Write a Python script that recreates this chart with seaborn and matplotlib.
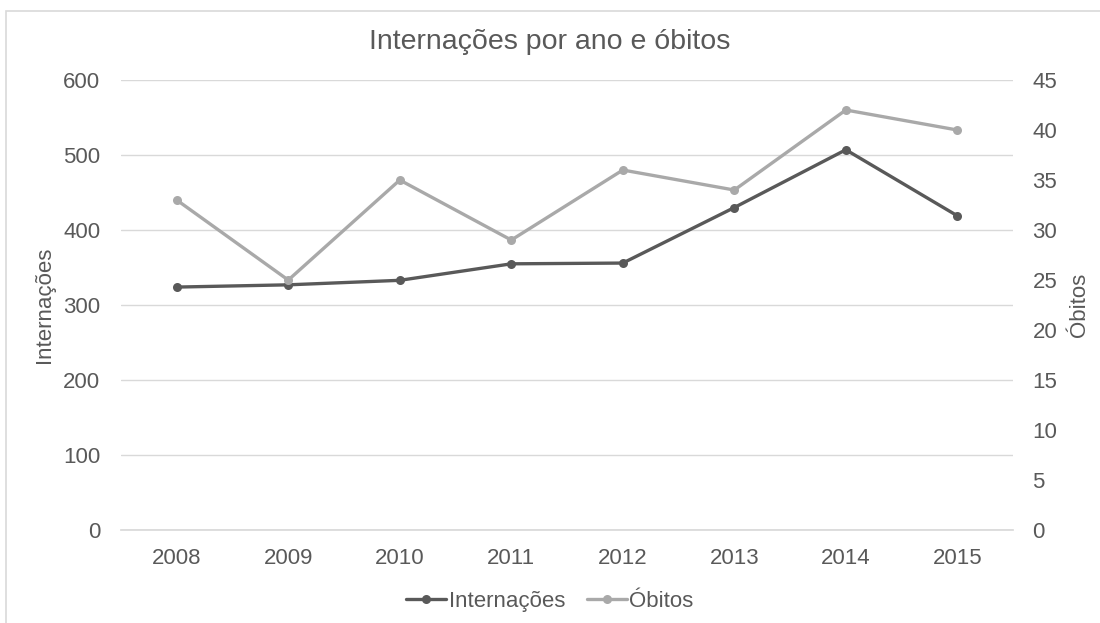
import matplotlib
matplotlib.use("Agg")
import matplotlib.pyplot as plt
import seaborn as sns
import pandas as pd
from matplotlib.lines import Line2D
from matplotlib.patches import Rectangle

anos = ["2008", "2009", "2010", "2011", "2012", "2013", "2014", "2015"]
internacoes = [324, 327, 333, 355, 356, 430, 507, 419]
obitos = [33, 25, 35, 29, 36, 34, 42, 40]

sns.set_theme(style="white")
plt.rcParams['font.family'] = ['Liberation Sans', 'DejaVu Sans']
txt = "#595959"
fs = 16

fig = plt.figure(figsize=(11, 6.23), dpi=100)
ax = fig.add_axes([0.11, 0.149, 0.811, 0.7226])
ax2 = ax.twinx()

df = pd.DataFrame({"ano": anos, "pos": range(len(anos)), "internacoes": internacoes, "obitos": obitos})

c1 = "#595959"
c2 = "#A9A9A9"
sns.lineplot(data=df, x="pos", y="internacoes", ax=ax, color=c1, lw=2.4,
             marker="o", markersize=6.5, markeredgewidth=0, zorder=3)
sns.lineplot(data=df, x="pos", y="obitos", ax=ax2, color=c2, lw=2.4,
             marker="o", markersize=6.5, markeredgewidth=0, zorder=3)

ax.set_xlim(-0.5, len(anos) - 0.5)
ax.set_ylim(0, 600)
ax2.set_ylim(0, 45)
ax.set_yticks(range(0, 601, 100))
ax2.set_yticks(range(0, 46, 5))
ax.set_xticks(range(len(anos)))
ax.set_xticklabels(anos)

ax.grid(axis="y", color="#D9D9D9", lw=1)
ax.grid(axis="x", visible=False)
ax2.grid(False)
for a in (ax, ax2):
    for s in a.spines.values():
        s.set_visible(False)
    a.tick_params(axis="both", length=0, labelsize=fs, labelcolor=txt)
ax.spines["bottom"].set_visible(True)
ax.spines["bottom"].set_color("#D9D9D9")
ax.tick_params(axis="x", pad=13)
ax.tick_params(axis="y", pad=15)
ax2.tick_params(axis="y", pad=14)

ax.set_xlabel("")
ax.set_ylabel("Internações", fontsize=fs, color=txt)
ax2.set_ylabel("Óbitos", fontsize=fs, color=txt, rotation=90)
ax.yaxis.set_label_coords(-0.0853, 0.5)
ax2.yaxis.set_label_coords(1.074, 0.5)
ax.yaxis.label.set_va("center")
ax2.yaxis.label.set_va("center")

fig.text(0.5, 0.9326, "Internações por ano e óbitos", ha="center", va="center",
         fontsize=20.5, color=txt)

handles = [Line2D([], [], color=c1, lw=2.4, marker="o", markersize=6.5, markeredgewidth=0),
           Line2D([], [], color=c2, lw=2.4, marker="o", markersize=6.5, markeredgewidth=0)]
fig.legend(handles, ["Internações", "Óbitos"], loc="center", bbox_to_anchor=(0.5, 0.035),
           ncol=2, frameon=False, fontsize=fs, labelcolor=txt, handlelength=1.8,
           handletextpad=0.1, columnspacing=1.0)

fig.patches.append(Rectangle((6 / 1100, -0.05), 1.2, 1.05 - 11 / 623, transform=fig.transFigure,
                             fill=False, edgecolor="#D9D9D9", lw=1.2))

fig.savefig("out.png", dpi=100)
